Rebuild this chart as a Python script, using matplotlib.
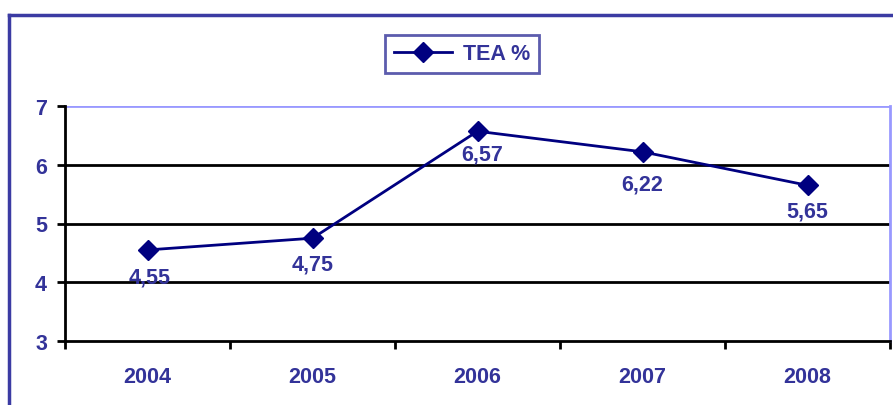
import matplotlib
matplotlib.use("Agg")
import matplotlib.pyplot as plt
from matplotlib.lines import Line2D

years = ["2004", "2005", "2006", "2007", "2008"]
tea = [4.55, 4.75, 6.57, 6.22, 5.65]
tea_labels = ["4,55", "4,75", "6,57", "6,22", "5,65"]
# where Excel put each value label, px below / right of the point
label_dy = [27, 26, 23, 32, 26]
label_dx = [2, 0, 5, 0, 0]

plt.rcParams['font.family'] = ['Liberation Sans', 'DejaVu Sans']
txt = '#333399'
navy = '#000080'
fs = 15.5

W, H = 893, 406
fig = plt.figure(figsize=(W/100, H/100), dpi=100)
ax = fig.add_axes([65/W, 1-342/H, (890-65)/W, (342-107)/H])

x = list(range(len(years)))
ax.plot(x, tea, color=navy, lw=2, marker='D', ms=10, mfc=navy, mec=navy, label='TEA %')
for xi, v, s, dx, dy in zip(x, tea, tea_labels, label_dx, label_dy):
    ax.annotate(s, (xi, v), xytext=(dx, -dy), textcoords='offset pixels',
                ha='center', va='center', fontsize=fs, fontweight='bold', color=txt)

ax.set_xlim(-0.5, 4.5)
ax.set_ylim(3, 7)
ax.set_yticks([3, 4, 5, 6, 7])
for y in [4, 5, 6]:
    ax.axhline(y, color='black', lw=2, zorder=0)
ax.axhline(7, color='#9999FF', lw=2, zorder=0)

ax.set_xticks([i - 0.5 for i in range(len(years) + 1)])
ax.set_xticklabels([])
ax.set_xticks(x, minor=True)
ax.set_xticklabels(years, minor=True)
ax.tick_params(axis='x', which='major', length=6, width=2, direction='out', color='black')
ax.tick_params(axis='x', which='minor', length=0, pad=18)
ax.tick_params(axis='y', length=6, width=2, direction='out', color='black', pad=7)
for lab in ax.get_xticklabels(minor=True) + ax.get_yticklabels():
    lab.set_fontsize(fs)
    lab.set_fontweight('bold')
    lab.set_color(txt)

ax.spines['left'].set_color('black')
ax.spines['left'].set_linewidth(2)
ax.spines['bottom'].set_color('black')
ax.spines['bottom'].set_linewidth(2)
ax.spines['top'].set_visible(False)
ax.spines['right'].set_color('#9999FF')
ax.spines['right'].set_linewidth(2)

leg = ax.legend(loc='center', bbox_to_anchor=(462/W, 1-55/H), bbox_transform=fig.transFigure,
                frameon=True, fancybox=False, handlelength=2.7, handletextpad=0.5,
                borderpad=0.4, borderaxespad=0, prop={'size': fs, 'weight': 'bold'})
leg.get_frame().set_edgecolor(txt)
leg.get_frame().set_linewidth(2)
for t in leg.get_texts():
    t.set_color(txt)

frame_c = '#3B3BA3'
fig.add_artist(Line2D([9/W, 9/W], [0, 1-16/H], color=frame_c, lw=2.5, transform=fig.transFigure))
fig.add_artist(Line2D([9/W, 1], [1-16/H, 1-16/H], color=frame_c, lw=2.5, transform=fig.transFigure))

fig.savefig('out.png', dpi=100)
